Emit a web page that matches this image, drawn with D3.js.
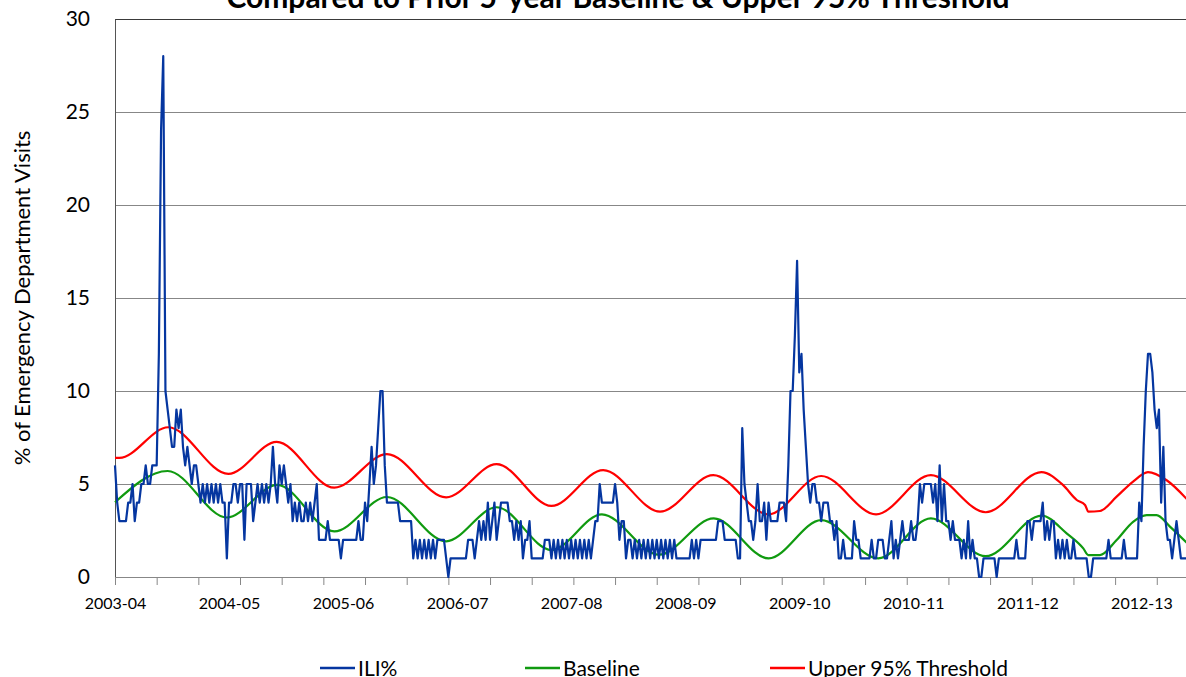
<!DOCTYPE html>
<html>
<head>
<meta charset="utf-8">
<script src="https://cdn.jsdelivr.net/npm/d3@7"></script>
<style>
  body { margin: 0; background: #fff; overflow: hidden; }
  svg { display: block; }
  text { font-family: Lato, "Open Sans", sans-serif; fill: #000; }
</style>
</head>
<body>
<div id="chart"></div>
<script>
// season labels sit at the first week of each 52-week block
const seasons = ["2003-04", "2004-05", "2005-06", "2006-07", "2007-08",
                 "2008-09", "2009-10", "2010-11", "2011-12", "2012-13"];
const yTicks = [0, 5, 10, 15, 20, 25, 30];

// weekly ILI% by season
const ili0304 = [6,4,3,3,3,3,4,4,5,3, 4,4,5,5,6,5,5,6,6,6, 12,24,28,10,9,8,7,7,9,8, 9,7,6,7,6,5,6,6,5,4, 5,4,5,4,5,4,5,4,5,4, 4,1];
const ili0405 = [4,4,5,5,4,5,5,2,5,5, 5,3,4,5,4,5,4,5,4,5, 7,5,4,6,5,6,5,4,5,3, 4,3,4,3,3,4,3,4,3,4, 5,2,2,2,2,3,2,2,2,2, 2,1];
const ili0506 = [2,2,2,2,2,2,2,3,2,2, 4,3,5,7,5,6,8,10,10,6, 4,4,4,4,4,4,3,3,3,3, 3,3,1,2,1,2,1,2,1,2, 1,2,1,2,2,2,2,1,0,1, 1,1];
const ili0607 = [1,1,1,1,1,2,2,2,1,2, 3,2,3,2,4,2,3,4,2,3, 4,4,4,4,3,3,2,3,2,3, 1,2,2,3,1,1,1,1,1,1, 2,2,2,1,2,1,2,1,2,1, 2,1];
const ili0708 = [2,1,2,1,2,1,2,1,2,1, 2,3,3,5,4,4,4,4,4,4, 5,4,2,3,3,1,2,2,1,2, 1,2,1,2,1,2,1,2,1,2, 1,2,1,2,1,2,1,2,1,1, 1,1];
const ili0809 = [1,1,1,2,1,2,1,2,2,2, 2,2,2,2,2,3,3,3,2,2, 2,2,2,2,1,1,8,5,4,3, 3,2,3,5,3,3,4,2,4,3, 3,3,3,4,4,4,3,6,10,10, 13,17];
const ili0910 = [11,12,9,7,5,4,5,5,4,4, 3,4,4,4,3,3,2,3,1,1, 2,1,1,1,1,3,2,2,1,1, 1,1,1,2,1,1,2,2,2,1, 1,2,3,1,2,1,2,3,2,2, 2,3];
const ili1011 = [2,2,3,5,4,5,5,5,5,4, 5,3,6,3,5,3,3,2,3,2, 2,2,1,2,1,3,1,2,1,1, 0,0,1,1,1,1,1,1,0,1, 1,1,1,1,1,1,1,2,1,1, 1,1];
const ili1112 = [3,3,2,3,3,3,3,4,2,3, 2,3,3,1,2,1,2,1,2,1, 1,2,1,1,1,1,1,1,0,0, 1,1,1,1,1,1,1,2,1,1, 1,1,1,1,2,1,1,1,1,1, 1,4];
const ili1213 = [3,7,10,12,12,11,9,8,9,4, 7,3,2,2,1,2,3,2,1,1, 1,1];

// baseline and upper 95% threshold, [week, value] read at turning points
const baseline = [[0,4.02],[24,5.7],[51,3.2],[74,4.95],[100,2.45],[124,4.3],[151,1.92],
  [174,3.75],[199,1.45],[222,3.37],[248,1.2],[273,3.15],[298,1.0],[322,3.06],[348,1.0],
  [372,3.15],[397,1.12],[422.5,3.3],[433.9,2.35],[441.5,1.54],[443.8,1.18],[449.1,1.18],
  [456.7,1.99],[464.2,2.97],[470.4,3.33],[474.9,3.33],[481,2.71],[489,1.8]];
const threshold = [[0,6.4],[2,6.4],[24.3,8.05],[51.7,5.54],[73.7,7.26],[100,4.8],[124,6.61],
  [151,4.28],[174,6.07],[199,3.82],[222.6,5.75],[248.5,3.51],[272.8,5.48],[297.9,3.37],
  [322,5.43],[347,3.37],[372,5.48],[397,3.48],[422.4,5.64],[432.2,4.95],[438.5,4.14],
  [442.3,3.87],[443.8,3.51],[449.1,3.55],[456.7,4.32],[464.2,5.13],[471,5.64],[479.5,5.2],
  [489,4.15]];

const ili = [].concat(ili0304, ili0405, ili0506, ili0607, ili0708,
                      ili0809, ili0910, ili1011, ili1112, ili1213);

const W = 1186, H = 677;
const margin = { left: 115, top: 19, bottom: 100 };
const weekPx = 2.1932;

const svg = d3.select("#chart").append("svg")
  .attr("width", W)
  .attr("height", H);

const x = d3.scaleLinear()
  .domain([0, 490])
  .range([margin.left, margin.left + 490 * weekPx]);

const y = d3.scaleLinear()
  .domain([0, 30])
  .range([H - margin.bottom, margin.top]);

// gridlines
svg.append("g")
  .attr("transform", `translate(${margin.left},0)`)
  .call(d3.axisLeft(y).tickValues(yTicks.slice(1)).tickSize(-(W - margin.left)).tickFormat(""))
  .call(g => g.select(".domain").remove())
  .call(g => g.selectAll(".tick line").attr("stroke", "#878787"))
  .call(g => g.selectAll(".tick").filter(d => d === 30).select("line").attr("stroke", "#3a3a3a"));

// y axis labels
svg.append("g")
  .attr("transform", `translate(${margin.left},0)`)
  .call(d3.axisLeft(y).tickValues(yTicks).tickSize(0).tickPadding(25))
  .call(g => g.select(".domain").attr("stroke", "#555"))
  .call(g => g.selectAll("text").attr("font-size", 21).attr("font-family", "Lato, sans-serif"));

// x axis: tick marks every 19 weeks, labels every season
svg.append("g")
  .attr("transform", `translate(0,${y(0)})`)
  .call(d3.axisBottom(x).tickValues(d3.range(0, 490, 19)).tickSize(8).tickSizeOuter(0).tickFormat(""))
  .call(g => g.select(".domain").attr("stroke", "#878787").attr("d", `M${margin.left},0.5H${W}`))
  .call(g => g.selectAll(".tick line").attr("stroke", "#878787"));

svg.append("g")
  .attr("transform", `translate(0,${y(0)})`)
  .call(d3.axisBottom(x).tickValues(seasons.map((s, i) => i * 52)).tickSize(0).tickPadding(21)
    .tickFormat((d, i) => seasons[i]))
  .call(g => g.select(".domain").remove())
  .call(g => g.selectAll("text").attr("font-size", 16).attr("font-family", "Lato, sans-serif"));

// series
const lineIli = d3.line()
  .x((d, i) => x(i))
  .y(d => y(d));

const lineCurve = d3.line()
  .x(d => x(d[0]))
  .y(d => y(d[1]))
  .curve(d3.curveMonotoneX);

const series = [
  { name: "ILI%", color: "#0536a0" },
  { name: "Baseline", color: "#109a10" },
  { name: "Upper 95% Threshold", color: "#ff0000" }
];

svg.append("path")
  .datum(threshold)
  .attr("fill", "none")
  .attr("stroke", series[2].color)
  .attr("stroke-width", 2.2)
  .attr("d", lineCurve);

svg.append("path")
  .datum(baseline)
  .attr("fill", "none")
  .attr("stroke", series[1].color)
  .attr("stroke-width", 2.2)
  .attr("d", lineCurve);

svg.append("path")
  .datum(ili)
  .attr("fill", "none")
  .attr("stroke", series[0].color)
  .attr("stroke-width", 2.2)
  .attr("stroke-linejoin", "round")
  .attr("d", lineIli);

// title (top part falls outside the picture, as in the original)
svg.append("text")
  .attr("x", 618)
  .attr("y", 8)
  .attr("text-anchor", "middle")
  .attr("font-size", 30)
  .attr("font-weight", "bold")
  .text("Compared to Prior 5-year Baseline & Upper 95% Threshold");

// y axis title
svg.append("text")
  .attr("transform", `translate(30,${(y(0) + y(30)) / 2}) rotate(-90)`)
  .attr("text-anchor", "middle")
  .attr("font-size", 22)
  .text("% of Emergency Department Visits");

// legend
const legendX = [320, 525, 770];
const legend = svg.append("g").attr("transform", "translate(0,668)");
series.forEach((s, i) => {
  legend.append("line")
    .attr("x1", legendX[i]).attr("x2", legendX[i] + 35)
    .attr("stroke", s.color).attr("stroke-width", 2.5);
  legend.append("text")
    .attr("x", legendX[i] + 38)
    .attr("y", 8)
    .attr("font-size", 21)
    .text(s.name);
});
</script>
</body>
</html>
